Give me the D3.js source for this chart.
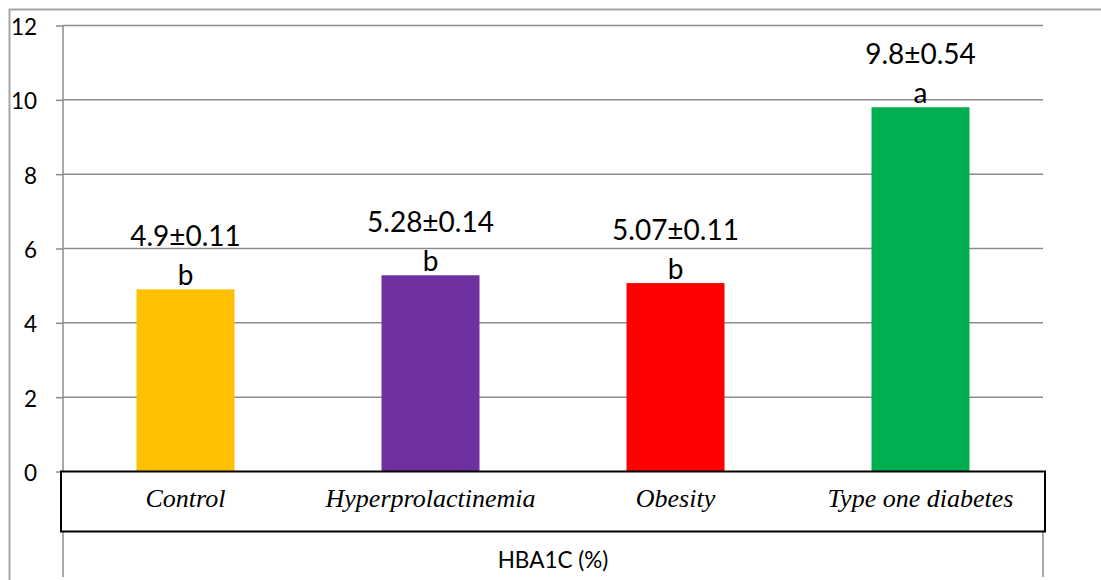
<!DOCTYPE html>
<html>
<head>
  <meta charset="utf-8">
  <title>HBA1C bar chart</title>
  <style>
    body { margin: 0; background: #fff; }
    svg { display: block; }
  </style>
</head>
<body>
  <svg width="1101" height="580"></svg>
  <script src="https://d3js.org/d3.v7.min.js"></script>
  <script>
    // data
    var categories = ["Control", "Hyperprolactinemia", "Obesity", "Type one diabetes"];
    var means = [4.9, 5.28, 5.07, 9.8];
    var errors = ["0.11", "0.14", "0.11", "0.54"];
    var letters = ["b", "b", "b", "a"];
    var colors = ["#FFC000", "#7030A0", "#FF0000", "#00B050"];
    var yTicks = [0, 2, 4, 6, 8, 10, 12];
    var axisTitle = "HBA1C (%)";

    var svg = d3.select("svg");
    var plotLeft = 63, plotRight = 1043, plotTop = 25.5, zeroY = 471.5;
    var gridColor = "#8c8c8c";
    var sansFont = "Lato, 'Open Sans', sans-serif";

    // outer chart border (cut off at right and bottom)
    svg.append("path")
      .attr("d", "M9.5,590 V9.5 H1110")
      .attr("fill", "none")
      .attr("stroke", "#a6a6a6")
      .attr("stroke-width", 2);

    var x = d3.scaleBand()
      .domain(categories)
      .range([plotLeft, plotRight])
      .paddingInner(0.6)
      .paddingOuter(0.3);

    var y = d3.scaleLinear()
      .domain([0, 12])
      .range([zeroY, plotTop]);

    // gridlines
    svg.append("g")
      .selectAll("line")
      .data(yTicks.filter(function (d) { return d > 0; }))
      .enter()
      .append("line")
      .attr("x1", plotLeft)
      .attr("x2", plotRight)
      .attr("y1", function (d) { return y(d); })
      .attr("y2", function (d) { return y(d); })
      .attr("stroke", gridColor)
      .attr("stroke-width", 1.5);

    // y axis
    var yAxis = svg.append("g")
      .attr("transform", "translate(" + plotLeft + ",0)")
      .call(d3.axisLeft(y).tickValues(yTicks).tickSize(7).tickPadding(19));
    yAxis.select(".domain").remove();
    yAxis.selectAll("line").attr("stroke", gridColor).attr("stroke-width", 1.5);
    yAxis.selectAll("text")
      .attr("font-family", sansFont)
      .attr("font-size", 22.5)
      .attr("fill", "#000")
      .attr("dy", "0.4em");

    // vertical axis lines (down through the table)
    svg.append("line")
      .attr("x1", plotLeft).attr("x2", plotLeft)
      .attr("y1", plotTop).attr("y2", 577)
      .attr("stroke", gridColor).attr("stroke-width", 1.5);
    svg.append("line")
      .attr("x1", plotRight).attr("x2", plotRight)
      .attr("y1", 531).attr("y2", 577)
      .attr("stroke", gridColor).attr("stroke-width", 1.5);

    // bars
    svg.append("g")
      .selectAll("rect")
      .data(categories)
      .enter()
      .append("rect")
      .attr("x", function (d) { return x(d); })
      .attr("width", x.bandwidth())
      .attr("y", function (d, i) { return y(means[i]); })
      .attr("height", function (d, i) { return zeroY - y(means[i]); })
      .attr("fill", function (d, i) { return colors[i]; });

    // value labels
    var labels = svg.append("g")
      .selectAll("g")
      .data(categories)
      .enter()
      .append("g")
      .attr("transform", function (d, i) {
        return "translate(" + (x(d) + x.bandwidth() / 2) + "," + y(means[i]) + ")";
      })
      .attr("font-family", sansFont)
      .attr("font-size", 28)
      .attr("text-anchor", "middle")
      .attr("fill", "#000");
    labels.append("text")
      .attr("y", -43)
      .text(function (d, i) { return means[i] + "\u00b1" + errors[i]; });
    labels.append("text")
      .attr("y", -4)
      .text(function (d, i) { return letters[i]; });

    // data table box
    svg.append("rect")
      .attr("x", 61)
      .attr("y", zeroY)
      .attr("width", 984)
      .attr("height", 60)
      .attr("fill", "#fff")
      .attr("stroke", "#000")
      .attr("stroke-width", 2);

    svg.append("g")
      .selectAll("text")
      .data(categories)
      .enter()
      .append("text")
      .attr("x", function (d) { return x(d) + x.bandwidth() / 2; })
      .attr("y", 507)
      .attr("text-anchor", "middle")
      .attr("font-family", "'Liberation Serif', serif")
      .attr("font-style", "italic")
      .attr("font-size", 26)
      .attr("fill", "#000")
      .text(function (d) { return d; });

    svg.append("text")
      .attr("x", (plotLeft + plotRight) / 2)
      .attr("y", 568)
      .attr("text-anchor", "middle")
      .attr("font-family", sansFont)
      .attr("font-size", 22.5)
      .attr("fill", "#000")
      .text(axisTitle);
  </script>
</body>
</html>
